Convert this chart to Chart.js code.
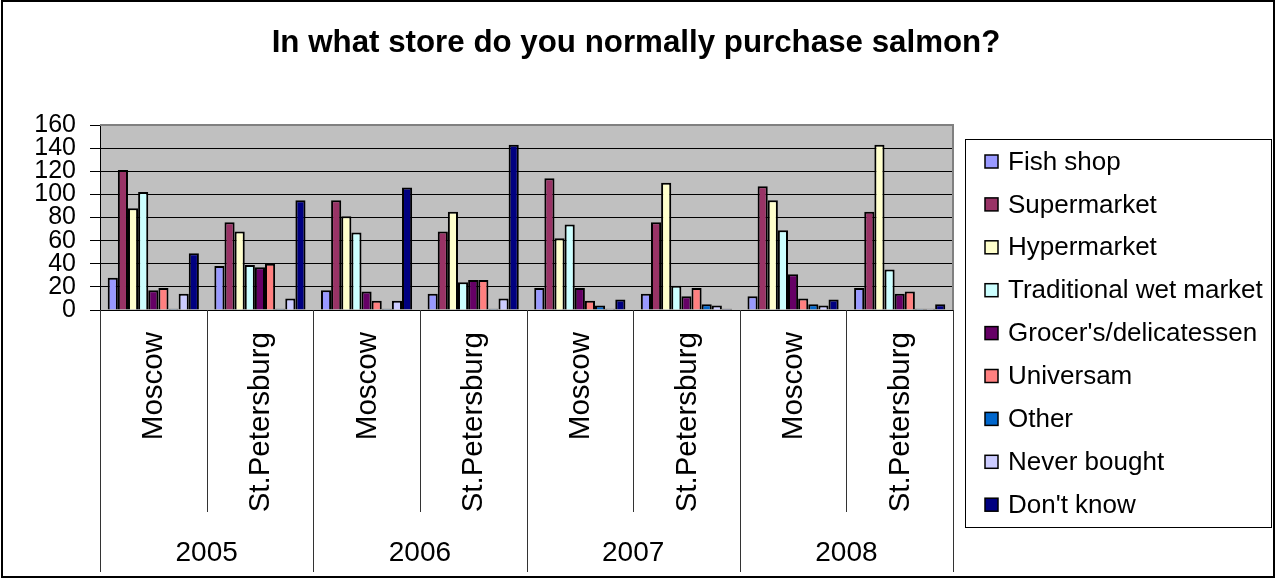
<!DOCTYPE html>
<html>
<head>
<meta charset="utf-8">
<script src="https://cdn.jsdelivr.net/npm/chart.js@4/dist/chart.umd.min.js"></script>
<style>
  html, body { margin: 0; padding: 0; background: #fff; }
  #wrap { width: 1276px; height: 579px; position: relative; }
</style>
</head>
<body>
<div id="wrap"><canvas id="c" width="1276" height="579"></canvas></div>
<script>
// Survey categories: two cities per year
const years = ['2005', '2006', '2007', '2008'];
const cities = ['Moscow', 'St.Petersburg'];
const categories = ['Moscow', 'St.Petersburg', 'Moscow', 'St.Petersburg',
                    'Moscow', 'St.Petersburg', 'Moscow', 'St.Petersburg'];

// Store types (series), values per category
const fishShop      = [28, 38, 17, 14, 19, 14, 12, 19];
const supermarket   = [121, 76, 95, 68, 114, 76, 107, 85];
const hypermarket   = [88, 68, 81, 85, 62, 110, 95, 143];
const wetMarket     = [102, 39, 67, 24, 74, 21, 69, 35];
const grocers       = [17, 37, 16, 26, 19, 12, 31, 14];
const universam     = [19, 40, 8, 26, 8, 19, 10, 16];
const other         = [1, 1, 1, 1, 4, 5, 5, 1];
const neverBought   = [14, 10, 8, 10, 1, 4, 4, 1];
const dontKnow      = [49, 95, 106, 143, 9, 1, 9, 5];

const seriesNames = ['Fish shop', 'Supermarket', 'Hypermarket', 'Traditional wet market',
                     "Grocer's/delicatessen", 'Universam', 'Other', 'Never bought', "Don't know"];
const seriesValues = [fishShop, supermarket, hypermarket, wetMarket, grocers,
                      universam, other, neverBought, dontKnow];
const seriesColors = ['#9999FF', '#993366', '#FFFFCC', '#CCFFFF', '#660066',
                      '#FF8080', '#0066CC', '#CCCCFF', '#000080'];

const yTicks = [0, 20, 40, 60, 80, 100, 120, 140, 160];

const FONT = "'Liberation Sans', Arial, sans-serif";

const decor = {
  id: 'decor',
  beforeDraw(chart) {
    const { ctx, chartArea: a } = chart;
    ctx.save();
    ctx.fillStyle = '#fff';
    ctx.fillRect(0, 0, chart.width, chart.height);
    ctx.fillStyle = '#C0C0C0';
    ctx.fillRect(a.left, a.top, a.right - a.left, a.bottom - a.top);
    ctx.restore();
  },
  afterDraw(chart) {
    const { ctx, chartArea: a } = chart;
    const xs = chart.scales.x;
    ctx.save();

    // plot frame (top and right)
    ctx.strokeStyle = '#808080';
    ctx.lineWidth = 2;
    ctx.beginPath();
    ctx.moveTo(a.left, a.top);
    ctx.lineTo(a.right, a.top);
    ctx.lineTo(a.right, a.bottom);
    ctx.stroke();

    // outer frame
    ctx.strokeStyle = '#000';
    ctx.lineWidth = 2;
    ctx.strokeRect(2, 1, 1272, 576);

    // title
    ctx.fillStyle = '#000';
    ctx.font = 'bold 31.3px ' + FONT;
    ctx.textAlign = 'center';
    ctx.textBaseline = 'alphabetic';
    ctx.fillText('In what store do you normally purchase salmon?', 636, 52);

    // category axis: separators
    const n = categories.length;
    const centers = categories.map((_, i) => xs.getPixelForValue(i));
    const bounds = [a.left];
    for (let i = 0; i < n - 1; i++) bounds.push((centers[i] + centers[i + 1]) / 2);
    bounds.push(a.right);
    ctx.strokeStyle = '#333';
    ctx.lineWidth = 1;
    bounds.forEach((bx, i) => {
      const yearEdge = i % cities.length === 0;
      const x = Math.round(bx) + 0.5;
      ctx.beginPath();
      ctx.moveTo(x, a.bottom);
      ctx.lineTo(x, yearEdge ? 572 : 512);
      ctx.stroke();
    });

    // city labels (vertical)
    ctx.font = '29.5px ' + FONT;
    ctx.fillStyle = '#000';
    categories.forEach((c, i) => {
      ctx.save();
      ctx.translate(centers[i] + 1, 332);
      ctx.rotate(-Math.PI / 2);
      ctx.textAlign = 'right';
      ctx.textBaseline = 'middle';
      ctx.fillText(c, 0, 0);
      ctx.restore();
    });

    // year labels
    ctx.font = '28px ' + FONT;
    ctx.textAlign = 'center';
    ctx.textBaseline = 'middle';
    years.forEach((y, k) => {
      const x0 = bounds[k * cities.length];
      const x1 = bounds[(k + 1) * cities.length];
      ctx.fillText(y, (x0 + x1) / 2, 553);
    });

    // legend
    ctx.strokeStyle = '#000';
    ctx.lineWidth = 1;
    ctx.strokeRect(965.5, 139.5, 306, 388);
    ctx.font = '26px ' + FONT;
    ctx.textAlign = 'left';
    ctx.textBaseline = 'middle';
    chart.data.datasets.forEach((ds, i) => {
      const cy = 161.5 + i * 42.9;
      ctx.fillStyle = ds.backgroundColor;
      ctx.fillRect(985, cy - 6.5, 13, 13);
      ctx.strokeStyle = '#000';
      ctx.lineWidth = 1.5;
      ctx.strokeRect(985, cy - 6.5, 13, 13);
      ctx.fillStyle = '#000';
      ctx.fillText(ds.label, 1008, cy + 1);
    });

    ctx.restore();
  }
};

new Chart(document.getElementById('c'), {
  type: 'bar',
  data: {
    labels: categories,
    datasets: seriesNames.map((name, i) => ({
      label: name,
      data: seriesValues[i],
      backgroundColor: seriesColors[i],
      borderColor: '#000',
      borderWidth: 2,
      categoryPercentage: 0.855,
      barPercentage: 1.0
    }))
  },
  options: {
    responsive: false,
    devicePixelRatio: 1,
    animation: false,
    layout: { padding: { top: 125, bottom: 269, left: 0, right: 323 } },
    plugins: { legend: { display: false }, title: { display: false }, tooltip: { enabled: false } },
    scales: {
      x: {
        type: 'category',
        grid: { display: false },
        ticks: { display: false },
        border: { display: true, color: '#000', width: 1 },
        afterFit(s) { s.height = 0; }
      },
      y: {
        min: 0,
        max: 160,
        afterBuildTicks(s) { s.ticks = yTicks.map(v => ({ value: v })); },
        ticks: {
          color: '#000',
          autoSkip: false,
          font: { family: FONT, size: 25 },
          padding: 14
        },
        grid: { color: '#000', lineWidth: 1, tickLength: 10 },
        border: { display: true, color: '#000', width: 1 },
        afterFit(s) { s.width = 100; }
      }
    }
  },
  plugins: [decor]
});
</script>
</body>
</html>
